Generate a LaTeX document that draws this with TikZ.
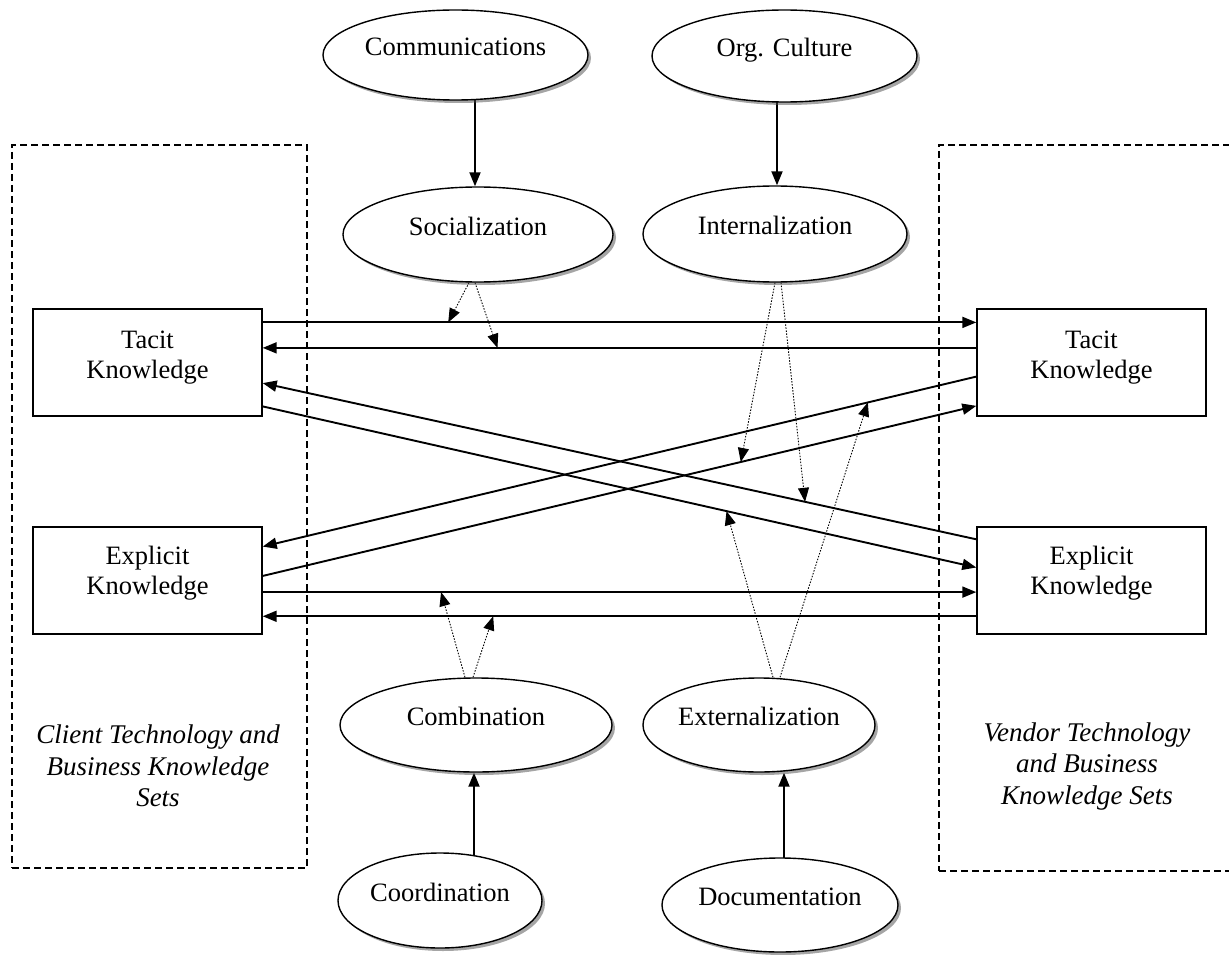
\documentclass[tikz,border=0pt]{standalone}
\usepackage{fontspec}
\setmainfont{Liberation Serif}
\usetikzlibrary{shapes.geometric,arrows.meta,calc,shadows,backgrounds}
\begin{document}
\begin{tikzpicture}[x=1pt,y=-1pt,
  ell/.style={ellipse,draw,line width=1.4pt,fill=white,inner sep=0pt,text depth=17pt,font=\fontsize{26.5}{31}\selectfont,
     drop shadow={shadow xshift=3pt,shadow yshift=-3pt,fill=black!70,opacity=0.5}},
  kbox/.style={rectangle,draw,line width=1.4pt,fill=white,minimum width=229pt,minimum height=107pt,inner sep=0pt},
  ktext/.style={align=center,font=\fontsize{26.5}{30}\selectfont,inner sep=0pt},
  settext/.style={align=center,font=\fontsize{27}{31.5}\selectfont\itshape,inner sep=0pt},
  dbox/.style={draw,line width=1.2pt,dash pattern=on 7pt off 4pt,inner sep=0pt},
  arr/.style={-{Triangle[length=14pt,width=11pt]},line width=1.9pt},
  darr/.style={-{Triangle[length=14pt,width=11pt]},line width=0.9pt,dash pattern=on 1.5pt off 1.5pt}
]
\useasboundingbox (0,0) rectangle (1229,955);

% knowledge-set frames
\node[dbox,minimum width=295pt,minimum height=723pt] (cset) at (159.5,506.5) {};
\node[dbox,minimum width=294pt,minimum height=726pt] (vset) at (1086,508) {};
\node[settext] (ctext) at (158,766) {Client Technology and\\Business Knowledge\\Sets};
\node[settext] (vtext) at (1087,766) {Vendor Technology\\and Business\\Knowledge Sets};

% knowledge boxes
\node[kbox] (TL) at (147.5,362.5) {};
\node[ktext] (TLt) at ([yshift=5pt]TL.center) {Tacit\\Knowledge};
\node[kbox] (EL) at (147.5,580.5) {};
\node[ktext] (ELt) at ([yshift=7pt]EL.center) {Explicit\\Knowledge};
\node[kbox] (TR) at (1091.5,362.5) {};
\node[ktext] (TRt) at ([yshift=5pt]TR.center) {Tacit\\Knowledge};
\node[kbox] (ER) at (1091.5,580.5) {};
\node[ktext] (ERt) at ([yshift=7pt]ER.center) {Explicit\\Knowledge};

% ellipses
\node[ell,minimum width=265pt,minimum height=90pt] (comm) at (455.5,55) {Communications};
\node[ell,minimum width=265pt,minimum height=92pt] (org) at (784.5,56) {Org. Culture};
\node[ell,minimum width=270pt,minimum height=95pt] (soc) at (478,234.5) {Socialization};
\node[ell,minimum width=264pt,minimum height=96pt] (int) at (775,234) {Internalization};
\node[ell,minimum width=272pt,minimum height=94pt] (comb) at (476,725) {Combination};
\node[ell,minimum width=232pt,minimum height=94pt] (ext) at (759,725) {Externalization};
\node[ell,minimum width=204pt,minimum height=95pt] (coord) at (440,900.5) {Coordination};
\node[ell,minimum width=236pt,minimum height=94pt] (doc) at (780,905) {Documentation};

% knowledge flows
\draw[arr] ($(TL.north east)!0.13!(TL.south east)$) -- coordinate[pos=0.26] (p1) ($(TR.north west)!0.13!(TR.south west)$);
\draw[arr] ($(TR.north west)!0.365!(TR.south west)$) -- coordinate[pos=0.671] (p2) ($(TL.north east)!0.365!(TL.south east)$);
\draw[arr] ($(TL.north east)!0.905!(TL.south east)$) -- coordinate[pos=0.65] (p3) ($(ER.north west)!0.38!(ER.south west)$);
\draw[arr] ($(ER.north west)!0.12!(ER.south west)$) -- coordinate[pos=0.24] (p4) ($(TL.north east)!0.69!(TL.south east)$);
\draw[arr] ($(TR.north west)!0.63!(TR.south west)$) -- coordinate[pos=0.152] (p5) ($(EL.north east)!0.187!(EL.south east)$);
\draw[arr] ($(EL.north east)!0.458!(EL.south east)$) -- coordinate[pos=0.67] (p6) ($(TR.north west)!0.9!(TR.south west)$);
\draw[arr] ($(EL.north east)!0.607!(EL.south east)$) -- coordinate[pos=0.25] (p7) ($(ER.north west)!0.607!(ER.south west)$);
\draw[arr] ($(ER.north west)!0.83!(ER.south west)$) -- coordinate[pos=0.677] (p8) ($(EL.north east)!0.83!(EL.south east)$);

\begin{scope}[on background layer]
\draw[arr] ($(soc.north |- comm.center)+(-3,0)$) -- ($(soc.north)+(-3,0)$);
\draw[arr] ($(int.north |- org.center)+(2,0)$) -- ($(int.north)+(2,0)$);
\draw[arr] ($(comb.south |- coord.center)+(-2,0)$) -- ($(comb.south)+(-2,0)$);
\draw[arr] ($(doc.center)+(4,0)$) -- ($(ext.south -| doc.center)+(4,0)$);
\draw[darr] ([xshift=-9pt]soc.south) -- (p1);
\draw[darr] ([xshift=-3pt]soc.south) -- (p2);
\draw[darr] ([xshift=0pt]int.south) -- (p6);
\draw[darr] ([xshift=6pt]int.south) -- (p4);
\draw[darr] ([xshift=-11pt]comb.north) -- (p7);
\draw[darr] ([xshift=-3pt]comb.north) -- (p8);
\draw[darr] ([xshift=14pt]ext.north) -- (p3);
\draw[darr] ([xshift=21pt]ext.north) -- (p5);
\end{scope}
\end{tikzpicture}
\end{document}
